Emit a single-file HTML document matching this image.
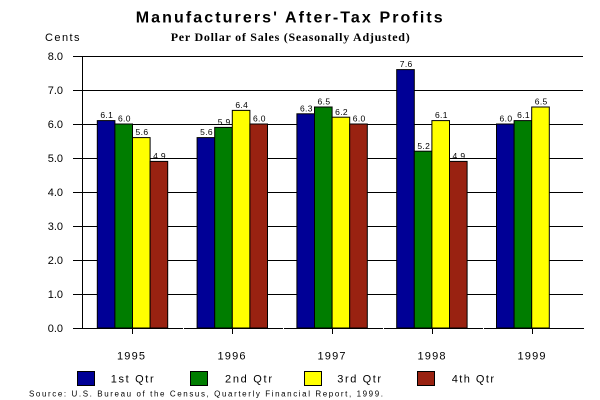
<!DOCTYPE html>
<html>
<head>
<meta charset="utf-8">
<style>
  html, body { margin:0; padding:0; background:#ffffff; }
  svg { display:block; }
  text { font-family: "Liberation Sans", Arial, sans-serif; fill:#000; }
</style>
</head>
<body>
<svg width="600" height="400" viewBox="0 0 600 400" xmlns="http://www.w3.org/2000/svg">
  <rect x="0" y="0" width="600" height="400" fill="#ffffff"/>

  <!-- Title -->
  <text x="135.7" y="22.5" font-size="16" font-weight="bold" textLength="307" lengthAdjust="spacing">Manufacturers' After-Tax Profits</text>
  <text x="170.7" y="41" font-size="12" font-weight="bold" style="font-family:'Liberation Serif',serif" textLength="239" lengthAdjust="spacing">Per Dollar of Sales (Seasonally Adjusted)</text>
  <text x="45" y="41" font-size="11" textLength="34.5" lengthAdjust="spacing">Cents</text>

  <!-- Gridlines -->
  <g stroke="#000" stroke-width="1" shape-rendering="crispEdges">
    <line x1="73" y1="56.5" x2="583" y2="56.5"/>
    <line x1="73" y1="90.5" x2="583" y2="90.5"/>
    <line x1="73" y1="124.5" x2="583" y2="124.5"/>
    <line x1="73" y1="158.5" x2="583" y2="158.5"/>
    <line x1="73" y1="192.5" x2="583" y2="192.5"/>
    <line x1="73" y1="226.5" x2="583" y2="226.5"/>
    <line x1="73" y1="260.5" x2="583" y2="260.5"/>
    <line x1="73" y1="294.5" x2="583" y2="294.5"/>
    <line x1="82.5" y1="56" x2="82.5" y2="328"/>
  </g>

  <!-- Y labels -->
  <g font-size="11" text-anchor="end">
    <text x="63" y="60">8.0</text>
    <text x="63" y="94">7.0</text>
    <text x="63" y="128">6.0</text>
    <text x="63" y="162">5.0</text>
    <text x="63" y="196">4.0</text>
    <text x="63" y="230">3.0</text>
    <text x="63" y="264">2.0</text>
    <text x="63" y="298">1.0</text>
    <text x="63" y="332">0.0</text>
  </g>

  <!-- Bars -->
  <g stroke="#000" stroke-width="1">
    <!-- 1995 -->
    <rect x="97.3" y="120.6" width="17.6" height="207.4" fill="#000096"/>
    <rect x="114.9" y="124" width="17.6" height="204" fill="#007d00"/>
    <rect x="132.5" y="137.6" width="17.6" height="190.4" fill="#ffff00"/>
    <rect x="150.1" y="161.4" width="17.6" height="166.6" fill="#992211"/>
    <!-- 1996 -->
    <rect x="197.1" y="137.6" width="17.6" height="190.4" fill="#000096"/>
    <rect x="214.7" y="127.4" width="17.6" height="200.6" fill="#007d00"/>
    <rect x="232.3" y="110.4" width="17.6" height="217.6" fill="#ffff00"/>
    <rect x="249.9" y="124" width="17.6" height="204" fill="#992211"/>
    <!-- 1997 -->
    <rect x="296.9" y="113.8" width="17.6" height="214.2" fill="#000096"/>
    <rect x="314.5" y="107" width="17.6" height="221" fill="#007d00"/>
    <rect x="332.1" y="117.2" width="17.6" height="210.8" fill="#ffff00"/>
    <rect x="349.7" y="124" width="17.6" height="204" fill="#992211"/>
    <!-- 1998 -->
    <rect x="396.7" y="69.6" width="17.6" height="258.4" fill="#000096"/>
    <rect x="414.3" y="151.2" width="17.6" height="176.8" fill="#007d00"/>
    <rect x="431.9" y="120.6" width="17.6" height="207.4" fill="#ffff00"/>
    <rect x="449.5" y="161.4" width="17.6" height="166.6" fill="#992211"/>
    <!-- 1999 -->
    <rect x="496.5" y="124" width="17.6" height="204" fill="#000096"/>
    <rect x="514.1" y="120.6" width="17.6" height="207.4" fill="#007d00"/>
    <rect x="531.7" y="107" width="17.6" height="221" fill="#ffff00"/>
  </g>

  <!-- Data labels -->
  <g font-size="8.5" text-anchor="middle">
    <text x="106.6" y="118" textLength="12.5" lengthAdjust="spacing">6.1</text>
    <text x="124.2" y="121.5" textLength="12.5" lengthAdjust="spacing">6.0</text>
    <text x="141.8" y="135" textLength="12.5" lengthAdjust="spacing">5.6</text>
    <text x="159.4" y="159" textLength="12.5" lengthAdjust="spacing">4.9</text>

    <text x="206.4" y="135" textLength="12.5" lengthAdjust="spacing">5.6</text>
    <text x="224" y="125" textLength="12.5" lengthAdjust="spacing">5.9</text>
    <text x="241.6" y="108" textLength="12.5" lengthAdjust="spacing">6.4</text>
    <text x="259.2" y="121.5" textLength="12.5" lengthAdjust="spacing">6.0</text>

    <text x="306.2" y="111.5" textLength="12.5" lengthAdjust="spacing">6.3</text>
    <text x="323.8" y="104.5" textLength="12.5" lengthAdjust="spacing">6.5</text>
    <text x="341.4" y="115" textLength="12.5" lengthAdjust="spacing">6.2</text>
    <text x="359" y="121.5" textLength="12.5" lengthAdjust="spacing">6.0</text>

    <text x="406" y="67" textLength="12.5" lengthAdjust="spacing">7.6</text>
    <text x="423.6" y="149" textLength="12.5" lengthAdjust="spacing">5.2</text>
    <text x="441.2" y="118" textLength="12.5" lengthAdjust="spacing">6.1</text>
    <text x="458.8" y="159" textLength="12.5" lengthAdjust="spacing">4.9</text>

    <text x="505.8" y="121.5" textLength="12.5" lengthAdjust="spacing">6.0</text>
    <text x="523.4" y="118" textLength="12.5" lengthAdjust="spacing">6.1</text>
    <text x="541" y="104.5" textLength="12.5" lengthAdjust="spacing">6.5</text>
  </g>

  <!-- X axis and ticks -->
  <g stroke="#000" stroke-width="1" shape-rendering="crispEdges">
    <line x1="73" y1="328.5" x2="584" y2="328.5"/>
    <line x1="132.5" y1="328" x2="132.5" y2="334"/>
    <line x1="232.5" y1="328" x2="232.5" y2="334"/>
    <line x1="332.5" y1="328" x2="332.5" y2="334"/>
    <line x1="432.5" y1="328" x2="432.5" y2="334"/>
    <line x1="532.5" y1="328" x2="532.5" y2="334"/>
  </g>
  <g stroke="#fff" stroke-width="1" shape-rendering="crispEdges">
    <line x1="183" y1="328.5" x2="184" y2="328.5"/>
    <line x1="283" y1="328.5" x2="284" y2="328.5"/>
    <line x1="383" y1="328.5" x2="384" y2="328.5"/>
    <line x1="483" y1="328.5" x2="484" y2="328.5"/>
  </g>

  <!-- X labels -->
  <g font-size="11">
    <text x="117" y="359.5" textLength="28" lengthAdjust="spacing">1995</text>
    <text x="217.5" y="359.5" textLength="28" lengthAdjust="spacing">1996</text>
    <text x="317.5" y="359.5" textLength="28" lengthAdjust="spacing">1997</text>
    <text x="417.5" y="359.5" textLength="28" lengthAdjust="spacing">1998</text>
    <text x="517.5" y="359.5" textLength="28" lengthAdjust="spacing">1999</text>
  </g>

  <!-- Legend -->
  <g stroke="#000" stroke-width="1">
    <rect x="77.5" y="371.5" width="17" height="14" fill="#000096"/>
    <rect x="190.5" y="371.5" width="17" height="14" fill="#007d00"/>
    <rect x="304.5" y="371.5" width="17" height="14" fill="#ffff00"/>
    <rect x="417.5" y="371.5" width="17" height="14" fill="#992211"/>
  </g>
  <g font-size="11">
    <text x="110.7" y="382.7" textLength="43" lengthAdjust="spacing">1st Qtr</text>
    <text x="225" y="382.7" textLength="47" lengthAdjust="spacing">2nd Qtr</text>
    <text x="337.3" y="382.7" textLength="43.7" lengthAdjust="spacing">3rd Qtr</text>
    <text x="451.7" y="382.7" textLength="42.3" lengthAdjust="spacing">4th Qtr</text>
  </g>

  <!-- Source -->
  <text x="29" y="396.5" font-size="8" textLength="354" lengthAdjust="spacing">Source: U.S. Bureau of the Census, Quarterly Financial Report, 1999.</text>
</svg>
</body>
</html>
